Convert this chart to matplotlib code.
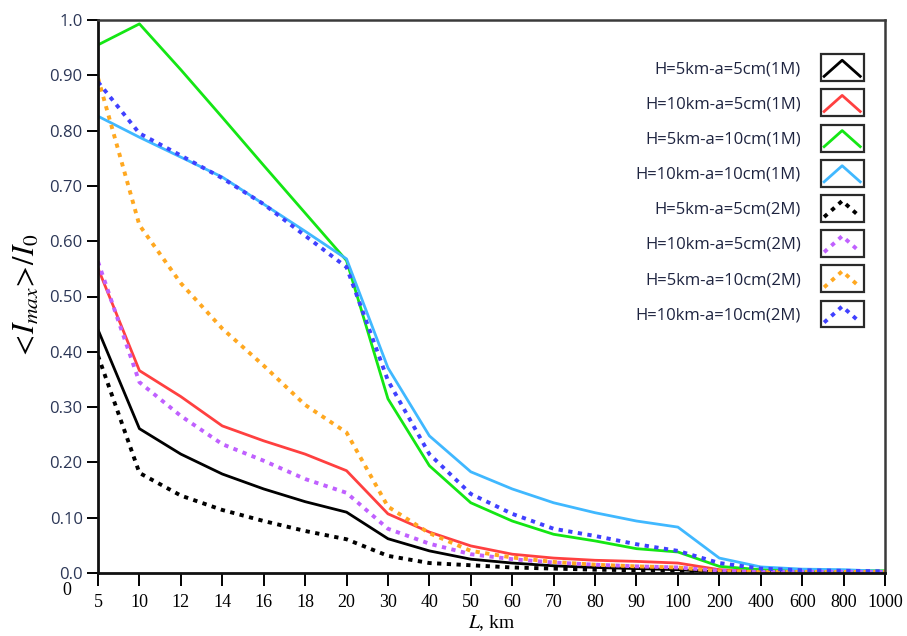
import matplotlib
matplotlib.use("Agg")
import matplotlib.pyplot as plt
from matplotlib.legend_handler import HandlerBase
from matplotlib.patches import Rectangle
from matplotlib.lines import Line2D

plt.rcParams["mathtext.fontset"] = "stix"

# Distance categories (km), evenly spaced along the axis
distances = [5, 10, 12, 14, 16, 18, 20, 30, 40, 50, 60, 70, 80, 90, 100,
             200, 400, 600, 800, 1000]

labels = [
    "H=5km-a=5cm(1M)", "H=10km-a=5cm(1M)", "H=5km-a=10cm(1M)", "H=10km-a=10cm(1M)",
    "H=5km-a=5cm(2M)", "H=10km-a=5cm(2M)", "H=5km-a=10cm(2M)", "H=10km-a=10cm(2M)",
]

h5_a5_1m = [0.440, 0.261, 0.215, 0.179, 0.152, 0.129, 0.110, 0.062, 0.040, 0.025,
            0.018, 0.013, 0.010, 0.008, 0.006, 0.002, 0.001, 0.001, 0.001, 0.001]
h10_a5_1m = [0.551, 0.366, 0.319, 0.266, 0.239, 0.215, 0.185, 0.107, 0.074, 0.049,
             0.034, 0.027, 0.023, 0.021, 0.018, 0.006, 0.003, 0.003, 0.003, 0.003]
h5_a10_1m = [0.955, 0.993, 0.910, 0.824, 0.737, 0.651, 0.565, 0.315, 0.194, 0.127,
             0.094, 0.070, 0.058, 0.044, 0.038, 0.012, 0.006, 0.004, 0.004, 0.004]
h10_a10_1m = [0.826, 0.788, 0.752, 0.716, 0.667, 0.618, 0.568, 0.371, 0.248, 0.183,
              0.152, 0.127, 0.109, 0.094, 0.083, 0.027, 0.011, 0.007, 0.006, 0.003]
h5_a5_2m = [0.393, 0.181, 0.140, 0.114, 0.094, 0.076, 0.061, 0.031, 0.018, 0.014,
            0.010, 0.008, 0.006, 0.005, 0.004, 0.002, 0.001, 0.001, 0.001, 0.001]
h10_a5_2m = [0.563, 0.345, 0.284, 0.233, 0.203, 0.170, 0.145, 0.080, 0.053, 0.034,
             0.025, 0.019, 0.015, 0.012, 0.010, 0.004, 0.002, 0.002, 0.002, 0.002]
h5_a10_2m = [0.895, 0.629, 0.524, 0.442, 0.375, 0.304, 0.254, 0.120, 0.072, 0.040,
             0.028, 0.020, 0.015, 0.012, 0.010, 0.003, 0.002, 0.002, 0.002, 0.002]
h10_a10_2m = [0.888, 0.795, 0.755, 0.714, 0.667, 0.610, 0.553, 0.348, 0.215, 0.143,
              0.107, 0.080, 0.067, 0.052, 0.040, 0.018, 0.008, 0.005, 0.004, 0.003]

series = [h5_a5_1m, h10_a5_1m, h5_a10_1m, h10_a10_1m,
          h5_a5_2m, h10_a5_2m, h5_a10_2m, h10_a10_2m]
colors = ["#000000", "#ff4040", "#14e614", "#40b8ff",
          "#000000", "#c060ff", "#ffa820", "#4040ff"]
dotted = [False] * 4 + [True] * 4

y_ticks = [0.0, 0.1, 0.2, 0.3, 0.4, 0.5, 0.6, 0.7, 0.8, 0.9, 1.0]
y_tick_labels = ["0.0", "0.10", "0.20", "0.30", "0.40", "0.50",
                 "0.60", "0.70", "0.80", "0.90", "1.0"]


class CaretHandler(HandlerBase):
    """Legend key: framed box holding an inverted-V sample of the line."""

    def create_artists(self, legend, orig_handle, xdescent, ydescent,
                       width, height, fontsize, trans):
        x0, y0 = -xdescent, -ydescent
        box = Rectangle((x0, y0), width, height, fill=False,
                        ec="#2a2a2a", lw=1.6, transform=trans)
        line = Line2D([x0 + width * 0.08, x0 + width * 0.5, x0 + width * 0.92],
                      [y0 + height * 0.18, y0 + height * 0.78, y0 + height * 0.18])
        line.update_from(orig_handle)
        line.set_transform(trans)
        return [box, line]


fig = plt.figure(figsize=(9.07, 6.36), dpi=100)
ax = fig.add_axes([98 / 907, 1 - 573 / 636, (885 - 98) / 907, (573 - 20) / 636])

xpos = list(range(len(distances)))
handles = []
for vals, col, dot, lab in zip(series, colors, dotted, labels):
    if dot:
        ln, = ax.plot(xpos, vals, color=col, lw=2.8, label=lab,
                      linestyle=(0, (1.1, 1.4)), dash_capstyle="butt")
    else:
        ln, = ax.plot(xpos, vals, color=col, lw=2.0, label=lab)
    handles.append(ln)

ax.set_xlim(0, len(distances) - 1)
ax.set_ylim(0, 1.0)

serif = ["Liberation Serif", "DejaVu Serif"]
ax.set_xticks(xpos)
ax.set_xticklabels([str(d) for d in distances], family=serif, fontsize=13)
ax.set_yticks(y_ticks)
ax.set_yticklabels(y_tick_labels, family=["Open Sans", "DejaVu Sans"],
                   fontsize=12, color="#2b3656")
ax.tick_params(axis="x", direction="out", length=9, width=1.4, pad=6)
ax.tick_params(axis="y", direction="out", length=8, width=1.4, pad=3)

for side in ("left", "bottom"):
    ax.spines[side].set_linewidth(2.0)
    ax.spines[side].set_color("#111111")
for side in ("top", "right"):
    ax.spines[side].set_linewidth(1.8)
    ax.spines[side].set_color("#3a3a3a")

ax.set_xlabel(r"$L$, km", family=serif, fontsize=14, labelpad=2)
ax.set_ylabel(r"$<\!I_{max}\!>\!/I_0$", fontsize=22, labelpad=6)

# origin marker under the zero tick
ax.text(-0.04, -0.031, "0", transform=ax.transAxes, family=serif,
        fontsize=13, ha="center", va="center")

leg = ax.legend(handles=handles, loc="upper right",
                bbox_to_anchor=(872 / 907, 1 - 46 / 636),
                bbox_transform=fig.transFigure, frameon=False,
                markerfirst=False, handlelength=2.58, handleheight=2.1,
                handletextpad=1.2, labelspacing=0.5, borderpad=0.0,
                prop={"family": ["Open Sans", "DejaVu Sans"], "size": 12},
                handler_map={Line2D: CaretHandler()})
for t in leg.get_texts():
    t.set_color("#1e2440")

fig.savefig("out.png", dpi=100)
